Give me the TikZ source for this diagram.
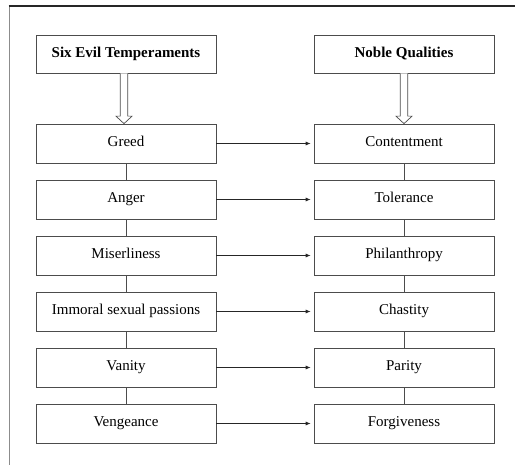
\documentclass[tikz,border=0pt]{standalone}
\usepackage{fontspec}
\setmainfont{Liberation Serif}
\usetikzlibrary{arrows.meta,calc}
\begin{document}
\begin{tikzpicture}[x=1pt,y=-1pt,
  box/.style={draw=black!70, line width=0.7pt, minimum width=180pt, minimum height=39pt, inner sep=0pt, text height=10.5pt, text depth=3.5pt, font=\fontsize{15}{18}\selectfont},
  head/.style={box, minimum height=38pt, font=\fontsize{15}{18}\selectfont\bfseries},
  link/.style={draw=black!70, line width=0.7pt},
  harrow/.style={draw=black!85, line width=0.7pt, -{Latex[length=5pt,width=4pt]}, shorten >=3pt},
  hollow/.style={draw=black!70, line width=0.7pt, fill=white, line join=miter}]
\useasboundingbox (0,0) rectangle (515,465);
\draw[black!45, line width=1pt] (9,465) -- (9,6);
\draw[black!85, line width=1.3pt] (8.5,6) -- (515,6);
\node[head] (hL) at (126,54) {Six Evil Temperaments};
\node[head] (hR) at (404,54) {Noble Qualities};
\foreach \i/\l/\r in {0/Greed/Contentment,1/Anger/Tolerance,2/Miserliness/Philanthropy,3/Immoral sexual passions/Chastity,4/Vanity/Parity,5/Vengeance/Forgiveness}{
  \node[box] (L\i) at (126,{143.5+56*\i}) {\l};
  \node[box] (R\i) at (404,{143.5+56*\i}) {\r};
  \draw[harrow] (L\i.east) -- (R\i.west);
}
\foreach \i [evaluate=\i as \j using int(\i+1)] in {0,...,4}{
  \draw[link] (L\i.south) -- (L\j.north);
  \draw[link] (R\i.south) -- (R\j.north);
}
\foreach \h/\b/\dx in {hL/L0/-2,hR/R0/0}{
  \draw[hollow] ($(\h.south)+(\dx-3.8,0)$) -- ($(\b.north)+(\dx-3.8,-7.5)$) -- ($(\b.north)+(\dx-8,-7.5)$)
    -- ($(\b.north)+(\dx,0)$) -- ($(\b.north)+(\dx+8,-7.5)$) -- ($(\b.north)+(\dx+3.8,-7.5)$) -- ($(\h.south)+(\dx+3.8,0)$);
}
\end{tikzpicture}
\end{document}
